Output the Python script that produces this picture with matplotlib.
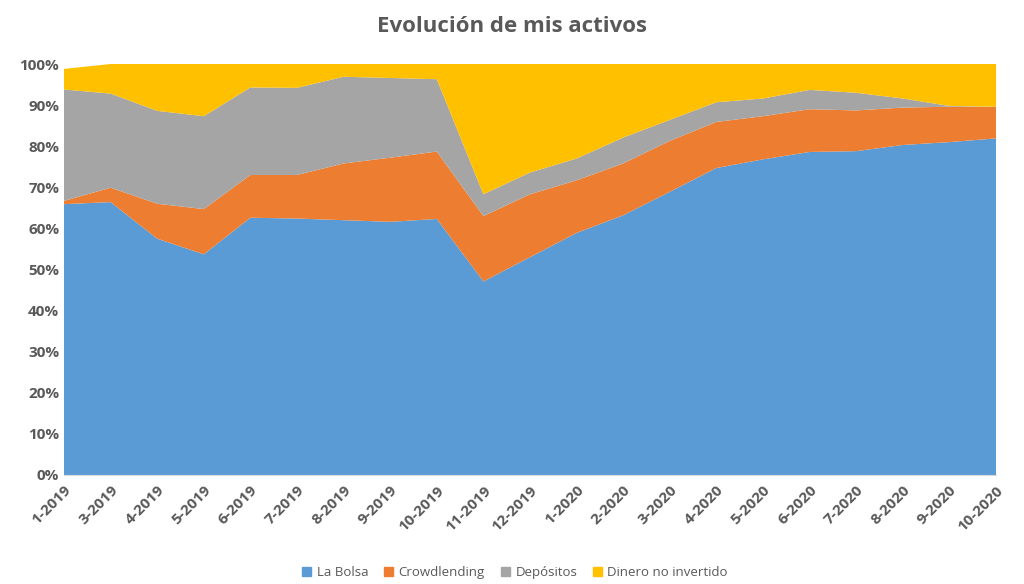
import numpy as np
import matplotlib.pyplot as plt
from matplotlib.patches import Patch
from matplotlib.ticker import PercentFormatter

meses = ['1-2019', '3-2019', '4-2019', '5-2019', '6-2019', '7-2019', '8-2019',
         '9-2019', '10-2019', '11-2019', '12-2019', '1-2020', '2-2020', '3-2020',
         '4-2020', '5-2020', '6-2020', '7-2020', '8-2020', '9-2020', '10-2020']

la_bolsa = [65.9, 66.4, 57.5, 53.7, 62.6, 62.4, 62.0, 61.6, 62.3, 47.1, 53.0,
            58.9, 63.2, 68.9, 74.7, 76.8, 78.6, 78.8, 80.3, 81.0, 81.9]
crowdlending = [0.8, 3.5, 8.5, 11.0, 10.4, 10.6, 13.8, 15.6, 16.4, 15.9, 15.3,
                12.8, 12.6, 12.4, 11.2, 10.5, 10.4, 9.9, 9.1, 8.6, 7.7]
depositos = [27.1, 22.9, 22.6, 22.6, 21.3, 21.2, 21.1, 19.4, 17.6, 5.3, 5.3,
             5.3, 6.3, 5.1, 4.8, 4.3, 4.7, 4.3, 2.2, 0.2, 0.0]
no_invertido = [5.0, 7.2, 11.4, 12.7, 5.7, 5.8, 3.1, 3.4, 3.7, 31.7, 26.4,
                23.0, 17.9, 13.6, 9.3, 8.4, 6.3, 7.0, 8.4, 10.2, 10.4]

series = ['La Bolsa', 'Crowdlending', 'Depósitos', 'Dinero no invertido']
colores = ['#5B9BD5', '#ED7D31', '#A5A5A5', '#FFC000']
gris = '#595959'

plt.rcParams['font.family'] = ['Open Sans', 'DejaVu Sans']

fig = plt.figure(figsize=(10.24, 5.84), dpi=100)
ax = fig.add_axes([64 / 1024, 109 / 584, 932 / 1024, 411 / 584])

x = np.arange(len(meses))
ax.stackplot(x, la_bolsa, crowdlending, depositos, no_invertido,
             colors=colores, linewidth=0)

ax.set_xlim(0, len(meses) - 1)
ax.set_ylim(0, 100)
ax.set_yticks(np.arange(0, 101, 10))
ax.yaxis.set_major_formatter(PercentFormatter(decimals=0))
ax.set_xticks(x)
ax.set_xticklabels(meses, rotation=45, ha='right', rotation_mode='anchor')

for s in ['top', 'right', 'left']:
    ax.spines[s].set_visible(False)
ax.spines['bottom'].set_color('#D9D9D9')
ax.tick_params(length=0, colors=gris, labelsize=11)
ax.tick_params(axis='x', pad=6)
for lbl in ax.get_xticklabels() + ax.get_yticklabels():
    lbl.set_fontweight('bold')

fig.text(0.5, 0.955, 'Evolución de mis activos', ha='center', va='center',
         fontsize=16, fontweight='bold', color=gris)

handles = [Patch(color=c, label=s) for c, s in zip(colores, series)]
fig.legend(handles=handles, loc='center', bbox_to_anchor=(0.503, 0.02),
           ncol=4, frameon=False, fontsize=9.5, labelcolor=gris,
           handlelength=0.7, handleheight=0.7, handletextpad=0.4,
           columnspacing=1.2)

fig.savefig('out.png', dpi=100)
